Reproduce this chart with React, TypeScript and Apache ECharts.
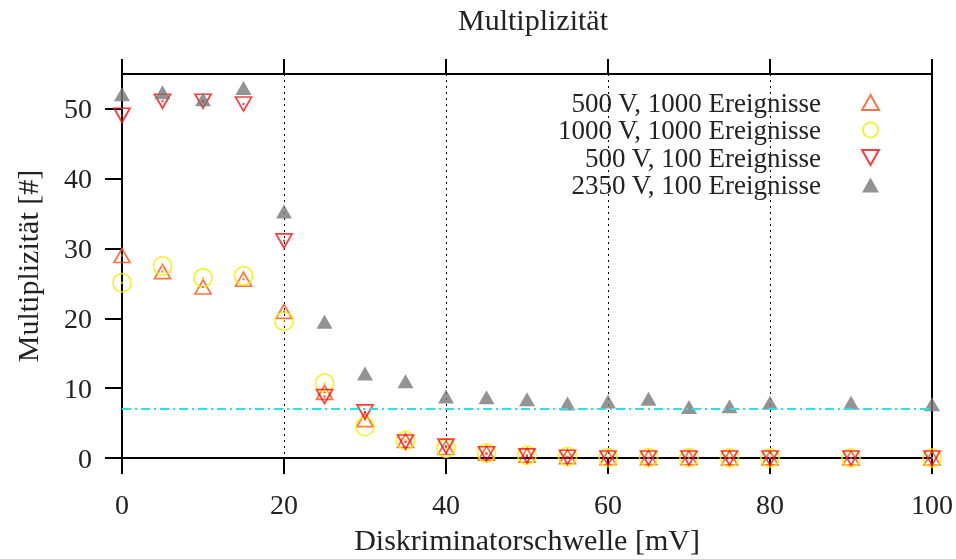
import React, { useEffect, useRef } from "react";
import * as echarts from "echarts";

const thresholds = [0, 5, 10, 15, 20, 25, 30, 35, 40, 45, 50, 55, 60, 65, 70, 75, 80, 90, 100];
const s500v1000 = [29.0, 26.7, 24.5, 25.6, 21.0, 9.4, 5.5, 2.5, 1.5, 0.7, 0.4, 0.2, 0.05, 0.05, 0.03, 0.02, 0.02, 0.01, 0];
const s1000v1000 = [25.1, 27.5, 25.8, 26.1, 19.6, 10.7, 4.5, 2.5, 1.4, 0.7, 0.4, 0.2, 0.05, 0.05, 0.03, 0.02, 0.02, 0.01, 0];
const s500v100 = [49.1, 51.1, 51.1, 50.7, 31.1, 8.8, 6.6, 2.3, 1.7, 0.6, 0.3, 0.1, 0, 0, 0, 0, 0, 0, 0];
const s2350v100 = [52.1, 52.4, 51.4, 53.0, 35.3, 19.5, 12.1, 11.0, 8.8, 8.7, 8.4, 7.8, 8.1, 8.5, 7.3, 7.4, 7.9, 7.9, 7.7];
const thresholdLine = 7.1;
const seriesNames = [
  "500 V, 1000 Ereignisse",
  "1000 V, 1000 Ereignisse",
  "500 V, 100 Ereignisse",
  "2350 V, 100 Ereignisse",
];
const xTicks = [0, 20, 40, 60, 80, 100];
const yTicks = [0, 10, 20, 30, 40, 50];

const FONT = "Liberation Serif";
const TXT = "#222";

const pairs = (ys: number[]) => thresholds.map((x, i) => [x, ys[i]]);
const DOWN = "path://M0,0 L16,0 L8,14 Z";

export default function App() {
  const ref = useRef<HTMLDivElement>(null);
  useEffect(() => {
    const chart = echarts.init(ref.current!, null, { renderer: "svg" });
    const hollow = (name: string, ys: number[], color: string, symbol: string, size: any) => ({
      name,
      type: "scatter",
      data: pairs(ys),
      symbol,
      symbolSize: size,
      itemStyle: { color: "rgba(0,0,0,0)", borderColor: color, borderWidth: 1.7 },
      emphasis: { disabled: true },
    });
    const dot = (ys: number[], color: string) => ({
      type: "scatter",
      data: pairs(ys),
      symbol: "rect",
      symbolSize: 2,
      itemStyle: { color },
      silent: true,
    });
    const axisLineStyle = { color: "#000", width: 2 };
    chart.setOption({
      animation: false,
      title: {
        text: "Multiplizität",
        left: 528,
        textAlign: "center",
        top: -1,
        textStyle: { fontFamily: FONT, fontSize: 30, fontWeight: "normal", color: TXT },
      },
      legend: {
        orient: "vertical",
        right: 71,
        top: 84,
        align: "right",
        itemWidth: 17,
        itemHeight: 15,
        itemGap: 0.5,
        selectedMode: false,
        data: seriesNames,
        textStyle: { fontFamily: FONT, fontSize: 27, color: TXT, padding: [0, 36, 0, 0] },
      },
      grid: {
        left: 122,
        right: 23,
        top: 74,
        bottom: 101,
        show: true,
        borderColor: "#000",
        borderWidth: 2,
        backgroundColor: "rgba(0,0,0,0)",
      },
      xAxis: [
        {
          type: "value",
          min: 0,
          max: 100,
          interval: 20,
          position: "bottom",
          axisLine: { show: true, onZero: false, lineStyle: axisLineStyle },
          axisTick: { show: true, inside: false, length: 16, lineStyle: axisLineStyle, customValues: xTicks },
          axisLabel: { fontFamily: FONT, fontSize: 28, color: TXT, margin: 32, customValues: xTicks },
          splitLine: { show: true, lineStyle: { color: "#000", width: 1, type: [2, 4] } },
          name: "Diskriminatorschwelle [mV]",
          nameLocation: "middle",
          nameGap: 66,
          nameTextStyle: { fontFamily: FONT, fontSize: 30, color: TXT },
        },
        {
          type: "value",
          min: 0,
          max: 100,
          interval: 20,
          position: "top",
          axisLine: { show: true, onZero: false, lineStyle: axisLineStyle },
          axisTick: { show: true, inside: false, length: 15, lineStyle: axisLineStyle, customValues: xTicks },
          axisLabel: { show: false },
          splitLine: { show: false },
        },
      ],
      yAxis: [
        {
          type: "value",
          min: 0,
          max: 55,
          interval: 10,
          axisLine: { show: true, onZero: false, lineStyle: axisLineStyle },
          axisTick: { show: true, inside: false, length: 17, lineStyle: axisLineStyle, customValues: yTicks },
          axisLabel: { fontFamily: FONT, fontSize: 28, color: TXT, margin: 30, customValues: yTicks },
          splitLine: { show: false },
          name: "Multiplizität [#]",
          nameLocation: "middle",
          nameGap: 80,
          nameRotate: 90,
          nameTextStyle: { fontFamily: FONT, fontSize: 30, color: TXT },
        },
      ],
      series: [
        {
          ...hollow(seriesNames[0], s500v1000, "#ff5014", "triangle", [16, 14]),
          markLine: {
            silent: true,
            symbol: "none",
            label: { show: false },
            lineStyle: { color: "#1ee8ec", width: 1.8, type: [9, 4, 2, 4] },
            data: [{ yAxis: thresholdLine }],
          },
        },
        hollow(seriesNames[1], s1000v1000, "#f0f000", "circle", 18),
        hollow(seriesNames[2], s500v100, "#ff0a0a", DOWN, [16, 14]),
        {
          name: seriesNames[3],
          type: "scatter",
          data: pairs(s2350v100),
          symbol: "triangle",
          symbolSize: [16, 14],
          itemStyle: { color: "#787878" },
        },
        dot(s500v1000, "#ff5014"),
        dot(s1000v1000, "#e0e000"),
        dot(s500v100, "#ff0a0a"),
      ],
    });
    return () => chart.dispose();
  }, []);
  return <div ref={ref} style={{ position: "fixed", left: 0, top: 0, width: 956, height: 559 }} />;
}
